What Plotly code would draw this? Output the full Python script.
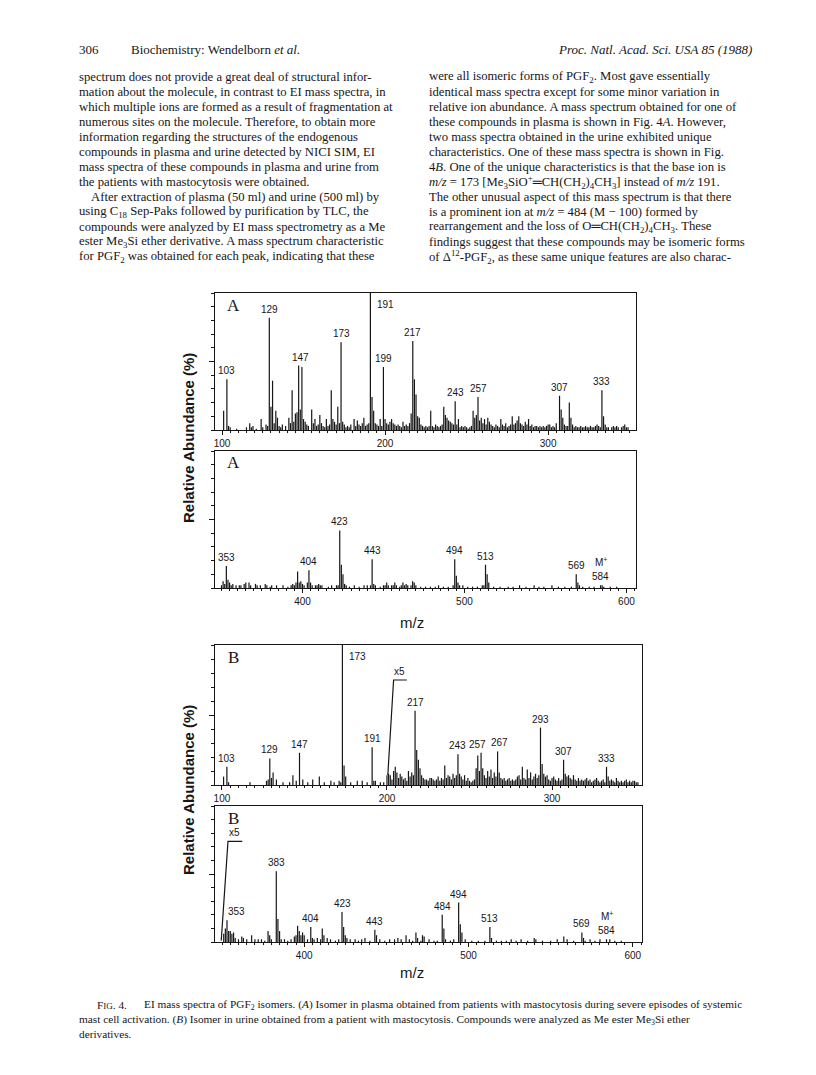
import plotly.graph_objects as go

W, H = 816, 1075
INK = '#161616'

# ---------------- data: EI mass spectra (m/z, relative abundance %) ----------------
# Fig 4A, m/z 100-350
mz_a1 = [101, 103, 104, 105, 109, 115, 117, 118, 119, 121, 124, 125, 127, 128, 129, 130, 131, 132, 133, 134,
         135, 136, 137, 139, 141, 142, 143, 144, 145, 146, 147, 148, 149, 150, 151, 152, 153, 155, 156, 157,
         158, 159, 160, 161, 162, 163, 164, 165, 166, 167, 168, 169, 170, 171, 172, 173, 174, 175, 176, 177,
         178, 179, 181, 182, 183, 184, 185, 186, 187, 188, 189, 190, 191, 192, 193, 194, 195, 196, 197, 198,
         199, 200, 201, 202, 203, 204, 205, 206, 207, 208, 209, 210, 211, 212, 213, 214, 215, 216, 217, 218,
         219, 220, 221, 222, 223, 224, 225, 226, 227, 228, 229, 230, 231, 232, 233, 234, 235, 236, 237, 238,
         239, 240, 241, 242, 243, 244, 245, 246, 247, 248, 249, 250, 251, 252, 253, 254, 255, 256, 257, 258,
         259, 260, 261, 262, 263, 264, 265, 266, 267, 268, 269, 270, 271, 272, 273, 274, 275, 276, 277, 278,
         279, 280, 281, 282, 283, 284, 285, 286, 287, 288, 289, 290, 291, 292, 293, 294, 295, 296, 297, 298,
         299, 300, 301, 302, 303, 304, 305, 307, 308, 309, 310, 311, 312, 313, 314, 315, 316, 317, 318, 319,
         320, 321, 322, 323, 324, 325, 326, 327, 328, 329, 330, 331, 332, 333, 334, 335, 336, 337, 339, 340,
         341, 342, 343, 345, 346, 347, 348, 349]
ab_a1 = [14, 37, 3, 2, 1, 2, 5, 2, 3, 1, 8, 2, 4, 3, 82, 17, 36, 5, 14, 9,
         3, 2, 4, 3, 9, 5, 29, 6, 12, 13, 47, 15, 46, 8, 6, 4, 3, 15, 5, 8,
         3, 4, 11, 5, 3, 2, 8, 3, 4, 29, 8, 6, 4, 17, 5, 64, 6, 4, 2, 3,
         2, 4, 8, 3, 7, 4, 3, 5, 9, 3, 4, 5, 100, 24, 14, 5, 4, 3, 8, 3,
         46, 8, 5, 4, 6, 8, 5, 4, 3, 4, 3, 2, 6, 3, 4, 3, 5, 12, 65, 37,
         26, 10, 9, 4, 3, 2, 3, 2, 3, 14, 3, 2, 4, 3, 2, 3, 4, 17, 11, 9,
         7, 6, 5, 4, 21, 4, 8, 2, 3, 2, 3, 2, 1, 2, 3, 14, 9, 11, 24, 7,
         9, 5, 8, 4, 9, 6, 4, 3, 2, 4, 3, 2, 8, 4, 3, 5, 2, 3, 4, 10,
         4, 5, 7, 10, 5, 4, 3, 6, 4, 8, 3, 4, 2, 3, 3, 2, 3, 2, 3, 2,
         3, 4, 4, 2, 3, 2, 5, 25, 15, 9, 4, 3, 3, 20, 9, 4, 2, 3, 2, 2,
         3, 2, 2, 3, 2, 2, 3, 2, 2, 3, 4, 3, 2, 29, 10, 4, 2, 2, 2, 3,
         2, 3, 2, 2, 3, 4, 2, 2]
lab_a1 = [103, 129, 147, 173, 191, 199, 217, 243, 257, 307, 333]

# Fig 4A, m/z 350-600
mz_a2 = [350, 351, 352, 353, 354, 355, 356, 357, 359, 361, 362, 364, 365, 367, 368, 371, 372, 374, 377, 378,
         380, 381, 384, 388, 391, 393, 394, 395, 396, 397, 398, 399, 400, 401, 403, 404, 405, 406, 408, 409,
         410, 411, 412, 416, 418, 421, 422, 423, 424, 425, 426, 427, 429, 432, 435, 438, 440, 442, 443, 444,
         445, 448, 450, 451, 452, 453, 455, 456, 457, 458, 460, 461, 462, 463, 464, 465, 467, 468, 469, 470,
         473, 476, 479, 482, 484, 487, 490, 493, 494, 495, 496, 497, 499, 502, 505, 508, 511, 512, 513, 514,
         515, 518, 522, 527, 530, 534, 538, 543, 546, 549, 554, 558, 562, 566, 569, 570, 571, 573, 577, 580,
         584, 585, 586, 590, 594]
ab_a2 = [2, 5, 3, 16, 6, 4, 2, 3, 2, 2, 2, 3, 4, 4, 2, 3, 2, 2, 3, 2,
         1, 2, 2, 2, 1, 2, 3, 2, 4, 12, 4, 5, 3, 2, 4, 13, 4, 2, 2, 2,
         3, 2, 2, 1, 2, 2, 2, 42, 17, 10, 3, 2, 1, 2, 1, 2, 2, 2, 21, 3,
         2, 1, 2, 2, 4, 2, 2, 2, 4, 2, 1, 2, 4, 2, 3, 2, 2, 5, 4, 2,
         1, 1, 1, 1, 2, 1, 1, 2, 21, 9, 4, 2, 2, 1, 1, 1, 2, 2, 17, 10,
         4, 1, 1, 1, 1, 2, 1, 2, 1, 1, 2, 1, 1, 1, 10, 4, 2, 1, 1, 1,
         2, 2, 1, 1, 1]
lab_a2 = [353, 404, 423, 443, 494, 513, 569, 584]

# Fig 4B, m/z 100-350
mz_b1 = [101, 103, 104, 117, 127, 128, 129, 130, 131, 133, 137, 141, 143, 145, 147, 149, 152, 155, 159, 162,
         166, 168, 171, 172, 173, 174, 175, 178, 182, 185, 188, 191, 192, 193, 196, 198, 200, 201, 202, 203,
         204, 205, 206, 207, 208, 209, 210, 211, 212, 213, 214, 215, 216, 217, 218, 219, 220, 221, 222, 223,
         224, 225, 226, 227, 228, 229, 230, 231, 232, 233, 234, 235, 236, 237, 238, 239, 240, 241, 242, 243,
         244, 245, 246, 247, 248, 249, 250, 251, 252, 253, 254, 255, 256, 257, 258, 259, 260, 261, 262, 263,
         264, 265, 266, 267, 268, 269, 270, 271, 272, 273, 274, 275, 276, 277, 278, 279, 280, 281, 282, 283,
         284, 285, 286, 287, 288, 289, 290, 291, 292, 293, 294, 295, 296, 297, 298, 299, 300, 301, 302, 303,
         304, 305, 306, 307, 308, 309, 310, 311, 312, 313, 314, 315, 316, 317, 318, 319, 320, 321, 322, 323,
         324, 325, 326, 327, 328, 329, 330, 331, 332, 333, 334, 335, 336, 337, 338, 339, 340, 341, 342, 343,
         344, 345, 346, 347, 348, 349, 350, 351, 352]
ab_b1 = [6, 13, 2, 2, 3, 4, 19, 5, 9, 4, 2, 2, 7, 3, 23, 4, 2, 4, 6, 2,
         3, 2, 3, 2, 100, 14, 6, 2, 3, 3, 2, 27, 3, 3, 2, 2, 7, 8, 7, 4,
         10, 13, 9, 5, 8, 6, 4, 5, 3, 10, 6, 9, 7, 53, 25, 18, 12, 7, 5, 4,
         4, 3, 5, 5, 4, 3, 4, 6, 3, 5, 4, 14, 5, 7, 6, 4, 8, 5, 7, 22,
         8, 6, 4, 7, 3, 5, 3, 2, 3, 4, 12, 21, 10, 23, 12, 7, 5, 10, 6, 11,
         5, 9, 6, 24, 9, 5, 4, 5, 3, 4, 5, 3, 4, 3, 4, 6, 7, 4, 13, 5,
         4, 11, 5, 9, 4, 6, 8, 5, 7, 41, 15, 8, 6, 7, 4, 3, 5, 6, 4, 3,
         5, 3, 4, 18, 8, 6, 7, 5, 4, 7, 4, 3, 5, 3, 4, 3, 4, 5, 3, 4,
         2, 3, 4, 5, 3, 2, 3, 4, 2, 13, 6, 3, 4, 3, 2, 5, 3, 2, 3, 2,
         3, 4, 2, 3, 2, 3, 3, 2, 2]
lab_b1 = [103, 129, 147, 173, 191, 217, 243, 257, 267, 293, 307, 333]

# Fig 4B, m/z 350-600
mz_b2 = [351, 352, 353, 354, 355, 356, 357, 358, 360, 362, 363, 365, 368, 370, 372, 374, 376, 378, 379, 380,
         383, 384, 385, 386, 388, 390, 392, 394, 395, 396, 397, 398, 399, 400, 402, 404, 405, 406, 408, 410,
         411, 412, 414, 416, 419, 421, 423, 424, 425, 426, 428, 431, 433, 435, 437, 440, 443, 444, 446, 449,
         452, 455, 457, 459, 462, 464, 466, 468, 469, 471, 472, 473, 476, 479, 481, 484, 485, 486, 489, 491,
         494, 495, 496, 498, 502, 506, 510, 513, 514, 517, 520, 523, 526, 529, 532, 536, 540, 541, 545, 550,
         554, 558, 560, 564, 569, 570, 571, 574, 577, 580, 584, 586, 589, 593]
ab_b2 = [6, 10, 16, 8, 8, 6, 7, 3, 2, 4, 3, 2, 5, 2, 2, 2, 1, 8, 5, 2,
         52, 17, 8, 2, 2, 1, 2, 4, 5, 12, 8, 5, 7, 5, 2, 11, 3, 2, 3, 2,
         10, 5, 3, 2, 1, 2, 22, 11, 5, 3, 2, 2, 1, 2, 3, 1, 9, 5, 2, 1,
         2, 2, 3, 2, 5, 2, 1, 7, 3, 1, 5, 4, 2, 1, 1, 20, 10, 2, 1, 2,
         29, 13, 7, 2, 1, 1, 1, 11, 3, 1, 1, 1, 2, 1, 2, 1, 3, 2, 1, 1,
         2, 4, 2, 1, 7, 3, 1, 2, 1, 2, 2, 2, 1, 1]
lab_b2 = [353, 383, 404, 423, 443, 484, 494, 513, 569, 584]

# "x5" expansion brackets (m/z, abundance)
x5_mz_b1 = [200.5, 204, 212]
x5_ab_b1 = [7, 75, 75]
x5_mz_b2 = [349.5, 353.6, 362.3]
x5_ab_b2 = [1, 74, 74]

# ---------------- page text ----------------
left_col = [
    "spectrum does not provide a great deal of structural infor-",
    "mation about the molecule, in contrast to EI mass spectra, in",
    "which multiple ions are formed as a result of fragmentation at",
    "numerous sites on the molecule. Therefore, to obtain more",
    "information regarding the structures of the endogenous",
    "compounds in plasma and urine detected by NICI SIM, EI",
    "mass spectra of these compounds in plasma and urine from",
    "the patients with mastocytosis were obtained.",
    "After extraction of plasma (50 ml) and urine (500 ml) by",
    "using C<sub>18</sub> Sep-Paks followed by purification by TLC, the",
    "compounds were analyzed by EI mass spectrometry as a Me",
    "ester Me<sub>3</sub>Si ether derivative. A mass spectrum characteristic",
    "for PGF<sub>2</sub> was obtained for each peak, indicating that these",
]
right_col = [
    "were all isomeric forms of PGF<sub>2</sub>. Most gave essentially",
    "identical mass spectra except for some minor variation in",
    "relative ion abundance. A mass spectrum obtained for one of",
    "these compounds in plasma is shown in Fig. 4<i>A</i>. However,",
    "two mass spectra obtained in the urine exhibited unique",
    "characteristics. One of these mass spectra is shown in Fig.",
    "4<i>B</i>. One of the unique characteristics is that the base ion is",
    "<i>m/z</i> = 173 [Me<sub>3</sub>SiO<sup>+</sup>═CH(CH<sub>2</sub>)<sub>4</sub>CH<sub>3</sub>] instead of <i>m/z</i> 191.",
    "The other unusual aspect of this mass spectrum is that there",
    "is a prominent ion at <i>m/z</i> = 484 (M − 100) formed by",
    "rearrangement and the loss of O═CH(CH<sub>2</sub>)<sub>4</sub>CH<sub>3</sub>. These",
    "findings suggest that these compounds may be isomeric forms",
    "of Δ<sup>12</sup>-PGF<sub>2</sub>, as these same unique features are also charac-",
]
caption = [
    "EI mass spectra of PGF<sub>2</sub> isomers. (<i>A</i>) Isomer in plasma obtained from patients with mastocytosis during severe episodes of systemic",
    "mast cell activation. (<i>B</i>) Isomer in urine obtained from a patient with mastocytosis. Compounds were analyzed as Me ester Me<sub>3</sub>Si ether",
    "derivatives.",
]

# ---------------- panels ----------------
panels = [
    dict(mz=mz_a1, ab=ab_a1, lab=lab_a1, box=(207, 285, 628, 422), xr=(95.7, 353.9), ticks=[100, 200, 300], tag='A'),
    dict(mz=mz_a2, ab=ab_a2, lab=lab_a2, box=(207, 443, 628, 580), xr=(346.0, 605.9), ticks=[400, 500, 600], tag='A'),
    dict(mz=mz_b1, ab=ab_b1, lab=lab_b1, box=(207, 637, 634, 777), xr=(95.8, 354.5), ticks=[100, 200, 300], tag='B'),
    dict(mz=mz_b2, ab=ab_b2, lab=lab_b2, box=(207, 798, 634, 934), xr=(345.7, 605.6), ticks=[400, 500, 600], tag='B'),
]
x5_marks = {3: (x5_mz_b1, x5_ab_b1), 4: (x5_mz_b2, x5_ab_b2)}
# label nudges (panel, m/z) -> px
nudge = {(1, 147): 2, (3, 257): -4, (3, 267): 2, (4, 353): 10}

serif = 'Liberation Serif'
sans = 'Liberation Sans'
LAB = dict(family=sans, size=10, color=INK)

fig = go.Figure()
annotations = []
layout = dict(width=W, height=H, margin=dict(l=0, r=0, t=0, b=0),
              paper_bgcolor='white', plot_bgcolor='white', showlegend=False)


def sticks(mz, ab):
    xs, ys = [], []
    for m, a in zip(mz, ab):
        xs += [m, m, None]
        ys += [0, a, None]
    return xs, ys


def page_text(x, y, text, size, anchor='left', family=serif, angle=0):
    return dict(x=x / W, y=1 - y / H, xref='paper', yref='paper', text=text, textangle=angle,
                showarrow=False, xanchor=anchor, yanchor='middle', borderpad=0,
                font=dict(family=family, size=size, color=INK))


for i, p in enumerate(panels, start=1):
    sfx = '' if i == 1 else str(i)
    xref, yref = 'x' + sfx, 'y' + sfx
    x0, y0, x1, y1 = p['box']
    layout['xaxis' + sfx] = dict(
        domain=[x0 / W, x1 / W], range=list(p['xr']), anchor=yref,
        showline=True, mirror=True, linecolor=INK, linewidth=1.3,
        ticks='outside', ticklen=4, tickcolor=INK, tickvals=p['ticks'],
        tickfont=LAB,
        minor=dict(dtick=5, tick0=0, ticks='outside', ticklen=2, tickcolor=INK),
        showgrid=False, zeroline=False, fixedrange=True)
    layout['yaxis' + sfx] = dict(
        domain=[1 - y1 / H, 1 - y0 / H], range=[0, 100], anchor=xref,
        showline=True, mirror=True, linecolor=INK, linewidth=1.3,
        ticks='outside', ticklen=5, tickcolor=INK, tickvals=[50],
        showticklabels=False,
        minor=dict(dtick=10, tick0=0, ticks='outside', ticklen=3, tickcolor=INK),
        showgrid=False, zeroline=False, fixedrange=True)

    xs, ys = sticks(p['mz'], p['ab'])
    fig.add_trace(go.Scatter(x=xs, y=ys, mode='lines', xaxis=xref, yaxis=yref,
                             line=dict(color=INK, width=1.2), hoverinfo='skip'))

    if i in x5_marks:
        mx, ay = x5_marks[i]
        fig.add_trace(go.Scatter(x=mx, y=ay, mode='lines', xaxis=xref, yaxis=yref,
                                 line=dict(color=INK, width=1.2), hoverinfo='skip'))
        annotations.append(dict(x=mx[1] + (mx[2] - mx[1]) * 0.45, y=ay[1], xref=xref, yref=yref,
                                text='x5', showarrow=False, yanchor='bottom', yshift=1, font=LAB))

    # panel letter
    annotations.append(page_text(x0 + 18, y0 + 12, p['tag'], 17, anchor='center'))

    # peak labels
    lookup = dict(zip(p['mz'], p['ab']))
    for m in p['lab']:
        a = lookup[m]
        if a >= 95:
            annotations.append(dict(x=m, y=97, xref=xref, yref=yref, text=str(m), showarrow=False,
                                    xanchor='left', yanchor='top', xshift=5, font=LAB))
            continue
        annotations.append(dict(x=m, y=a, xref=xref, yref=yref, text=str(m), showarrow=False,
                                xanchor='center', yanchor='bottom', yshift=1,
                                xshift=nudge.get((i, m), 0), font=LAB))
        if m == 584:
            annotations.append(dict(x=m, y=a, xref=xref, yref=yref, text='M<sup>+</sup>', showarrow=False,
                                    xanchor='center', yanchor='bottom', yshift=15, font=LAB))

# axis titles
for yc, yl in [(430, 614), (782, 964)]:
    annotations.append(page_text(180, yc, '<b>Relative Abundance (%)</b>', 15, anchor='center',
                                 family=sans, angle=-90))
    annotations.append(page_text(404, yl, 'm/z', 15, anchor='center', family=sans))

# header
annotations.append(page_text(70, 42, '306', 13))
annotations.append(page_text(122, 42, 'Biochemistry: Wendelborn <i>et al.</i>', 13))
annotations.append(page_text(745, 42, '<i>Proc. Natl. Acad. Sci. USA 85 (1988)</i>', 13, anchor='right'))

# body text
for k, line in enumerate(left_col):
    annotations.append(page_text(82 if k == 8 else 70, 69 + 15 * k, line, 12.7))
for k, line in enumerate(right_col):
    annotations.append(page_text(420, 69 + 15 * k, line, 12.7))

# caption
annotations.append(page_text(88, 997, "F<span style='font-size:9px'>IG</span>. 4.", 11.3))
for k, line in enumerate(caption):
    annotations.append(page_text(135 if k == 0 else 70, 997 + 14.5 * k, line, 11.3))

layout['annotations'] = annotations
fig.update_layout(**layout)
fig.write_html("out.html")
